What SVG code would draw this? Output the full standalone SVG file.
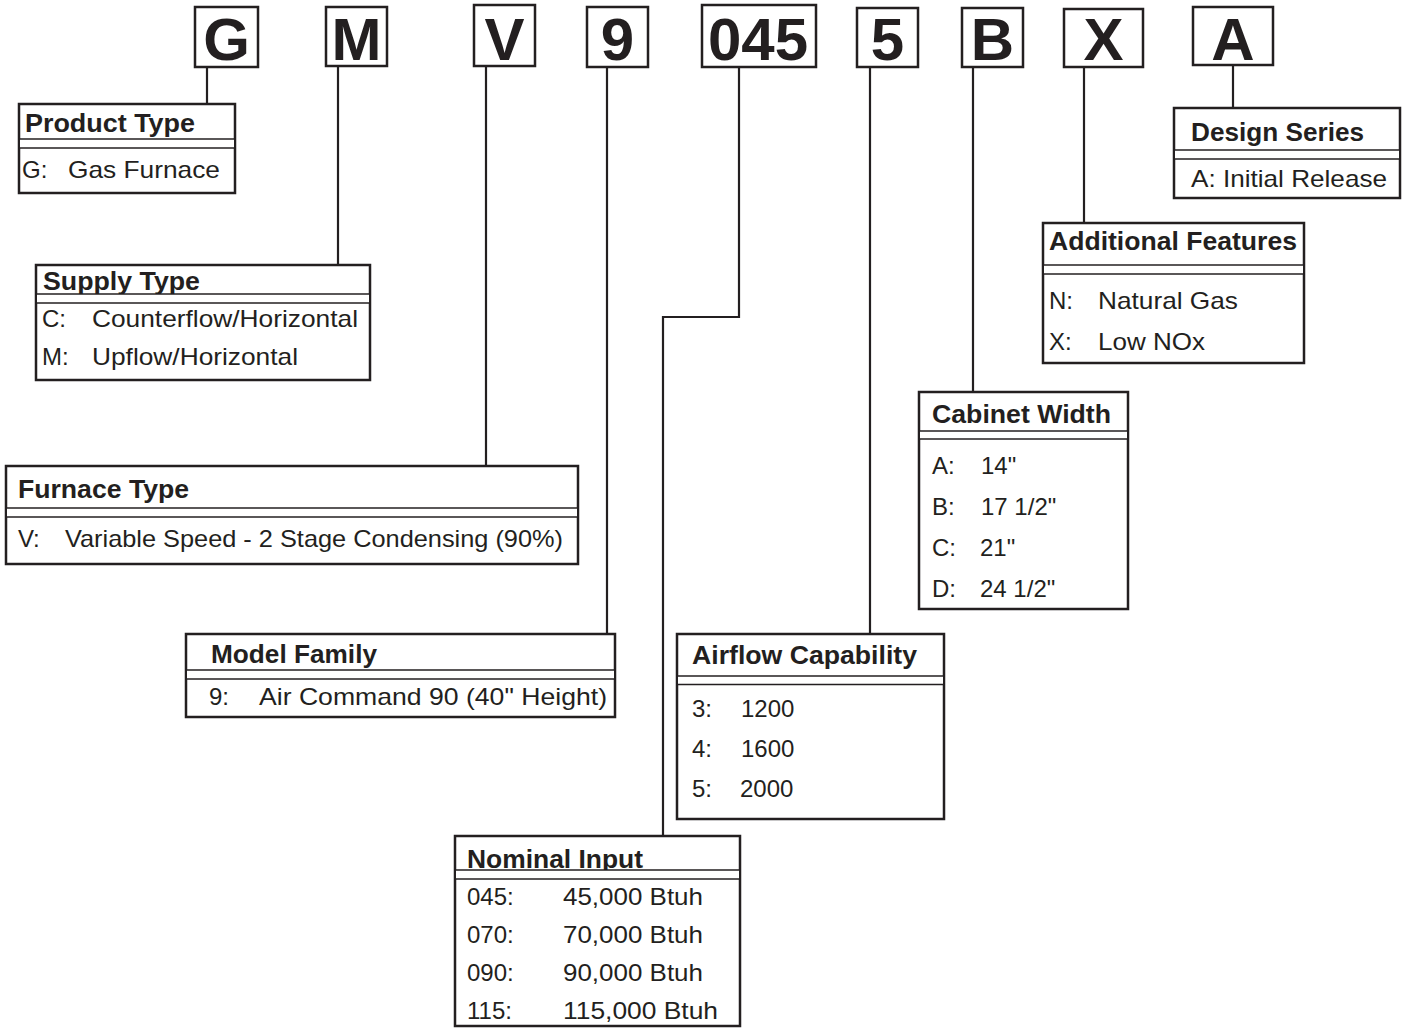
<svg xmlns="http://www.w3.org/2000/svg" width="1403" height="1028" viewBox="0 0 1403 1028">
<style>
.bg{fill:#ffffff}
.box{fill:#ffffff;stroke:#231f20;stroke-width:2.5}
.conn{fill:none;stroke:#231f20;stroke-width:2.2}
.sep{stroke:#231f20;stroke-width:1.5}
.band{fill:#ffffff;stroke:none}
.big{font-family:"Liberation Sans",Arial,sans-serif;font-weight:bold;font-size:60px;fill:#231f20;text-anchor:middle}
.t{font-family:"Liberation Sans",Arial,sans-serif;font-weight:bold;font-size:25px;fill:#231f20}
.b{font-family:"Liberation Sans",Arial,sans-serif;font-size:24px;fill:#231f20}
</style>
<rect class="bg" x="0" y="0" width="1403" height="1028"/>

<g id="connectors">
<path class="conn" d="M207,67 V104"/>
<path class="conn" d="M338,66 V265"/>
<path class="conn" d="M486,66 V466"/>
<path class="conn" d="M607,67 V634"/>
<path class="conn" d="M739,67 V317 H663 V836"/>
<path class="conn" d="M870,67 V634"/>
<path class="conn" d="M973,67 V392"/>
<path class="conn" d="M1084,67 V223"/>
<path class="conn" d="M1233,65 V108"/>
</g>

<g id="code-G"><rect class="box" x="195" y="7" width="63" height="60"/><text class="big" x="226.5" y="60">G</text></g>
<g id="code-M"><rect class="box" x="326" y="7" width="61" height="59"/><text class="big" x="356.5" y="60">M</text></g>
<g id="code-V"><rect class="box" x="474" y="5" width="61" height="61"/><text class="big" x="504.5" y="60">V</text></g>
<g id="code-9"><rect class="box" x="587" y="7" width="61" height="60"/><text class="big" x="617.5" y="60">9</text></g>
<g id="code-045"><rect class="box" x="702" y="5" width="114" height="62"/><text class="big" x="758" y="60">045</text></g>
<g id="code-5"><rect class="box" x="857" y="8" width="61" height="59"/><text class="big" x="887.5" y="60">5</text></g>
<g id="code-B"><rect class="box" x="962" y="8" width="61" height="59"/><text class="big" x="992.5" y="60">B</text></g>
<g id="code-X"><rect class="box" x="1064" y="9" width="79" height="58"/><text class="big" x="1103.5" y="60">X</text></g>
<g id="code-A"><rect class="box" x="1193" y="7" width="80" height="58"/><text class="big" x="1233" y="60">A</text></g>

<g id="product-type">
<rect class="box" x="19" y="104" width="216" height="89"/>
<text class="t" x="25" y="132" textLength="170" lengthAdjust="spacingAndGlyphs">Product Type</text>
<rect class="band" x="20" y="139" width="214" height="9"/>
<line class="sep" x1="19" y1="139" x2="235" y2="139"/><line class="sep" x1="19" y1="148" x2="235" y2="148"/>
<text class="b" x="22" y="178">G:</text>
<text class="b" x="68" y="178" textLength="152" lengthAdjust="spacingAndGlyphs">Gas Furnace</text>
</g>

<g id="supply-type">
<rect class="box" x="36" y="265" width="334" height="115"/>
<text class="t" x="43" y="290" textLength="157" lengthAdjust="spacingAndGlyphs">Supply Type</text>
<rect class="band" x="37" y="294" width="332" height="9"/>
<line class="sep" x1="36" y1="294" x2="370" y2="294"/><line class="sep" x1="36" y1="303" x2="370" y2="303"/>
<text class="b" x="42" y="327">C:</text>
<text class="b" x="92" y="327" textLength="266" lengthAdjust="spacingAndGlyphs">Counterflow/Horizontal</text>
<text class="b" x="42" y="365">M:</text>
<text class="b" x="92" y="365" textLength="206" lengthAdjust="spacingAndGlyphs">Upflow/Horizontal</text>
</g>

<g id="furnace-type">
<rect class="box" x="6" y="466" width="572" height="98"/>
<text class="t" x="18" y="498" textLength="171" lengthAdjust="spacingAndGlyphs">Furnace Type</text>
<rect class="band" x="7" y="508" width="570" height="9"/>
<line class="sep" x1="6" y1="508" x2="578" y2="508"/><line class="sep" x1="6" y1="517" x2="578" y2="517"/>
<text class="b" x="18" y="547">V:</text>
<text class="b" x="65" y="547" textLength="498" lengthAdjust="spacingAndGlyphs">Variable Speed - 2 Stage Condensing (90%)</text>
</g>

<g id="model-family">
<rect class="box" x="186" y="634" width="429" height="83"/>
<text class="t" x="211" y="663" textLength="166" lengthAdjust="spacingAndGlyphs">Model Family</text>
<rect class="band" x="187" y="670" width="427" height="9"/>
<line class="sep" x1="186" y1="670" x2="615" y2="670"/><line class="sep" x1="186" y1="679" x2="615" y2="679"/>
<text class="b" x="209" y="705">9:</text>
<text class="b" x="259" y="705" textLength="348" lengthAdjust="spacingAndGlyphs">Air Command 90 (40" Height)</text>
</g>

<g id="nominal-input">
<rect class="box" x="455" y="836" width="285" height="190"/>
<text class="t" x="467" y="868" textLength="176" lengthAdjust="spacingAndGlyphs">Nominal Input</text>
<rect class="band" x="456" y="870" width="283" height="9"/>
<line class="sep" x1="455" y1="870" x2="740" y2="870"/><line class="sep" x1="455" y1="879" x2="740" y2="879"/>
<text class="b" x="467" y="905">045:</text>
<text class="b" x="563" y="905" textLength="140" lengthAdjust="spacingAndGlyphs">45,000 Btuh</text>
<text class="b" x="467" y="943">070:</text>
<text class="b" x="563" y="943" textLength="140" lengthAdjust="spacingAndGlyphs">70,000 Btuh</text>
<text class="b" x="467" y="981">090:</text>
<text class="b" x="563" y="981" textLength="140" lengthAdjust="spacingAndGlyphs">90,000 Btuh</text>
<text class="b" x="467" y="1019">115:</text>
<text class="b" x="563" y="1019" textLength="155" lengthAdjust="spacingAndGlyphs">115,000 Btuh</text>
</g>

<g id="airflow-capability">
<rect class="box" x="677" y="634" width="267" height="185"/>
<text class="t" x="692" y="664" textLength="225" lengthAdjust="spacingAndGlyphs">Airflow Capability</text>
<rect class="band" x="678" y="676" width="265" height="8.5"/>
<line class="sep" x1="677" y1="676" x2="944" y2="676"/><line class="sep" x1="677" y1="684.5" x2="944" y2="684.5"/>
<text class="b" x="692" y="717">3:</text>
<text class="b" x="741" y="717">1200</text>
<text class="b" x="692" y="757">4:</text>
<text class="b" x="741" y="757">1600</text>
<text class="b" x="692" y="797">5:</text>
<text class="b" x="740" y="797">2000</text>
</g>

<g id="cabinet-width">
<rect class="box" x="919" y="392" width="209" height="217"/>
<text class="t" x="932" y="423" textLength="179" lengthAdjust="spacingAndGlyphs">Cabinet Width</text>
<rect class="band" x="920" y="431" width="207" height="8"/>
<line class="sep" x1="919" y1="431" x2="1128" y2="431"/><line class="sep" x1="919" y1="439" x2="1128" y2="439"/>
<text class="b" x="932" y="474">A:</text>
<text class="b" x="981" y="474">14"</text>
<text class="b" x="932" y="515">B:</text>
<text class="b" x="981" y="515">17 1/2"</text>
<text class="b" x="932" y="556">C:</text>
<text class="b" x="980" y="556">21"</text>
<text class="b" x="932" y="597">D:</text>
<text class="b" x="980" y="597">24 1/2"</text>
</g>

<g id="additional-features">
<rect class="box" x="1043" y="223" width="261" height="140"/>
<text class="t" x="1049" y="250" textLength="248" lengthAdjust="spacingAndGlyphs">Additional Features</text>
<rect class="band" x="1044" y="265" width="259" height="9"/>
<line class="sep" x1="1043" y1="265" x2="1304" y2="265"/><line class="sep" x1="1043" y1="274" x2="1304" y2="274"/>
<text class="b" x="1049" y="309">N:</text>
<text class="b" x="1098" y="309" textLength="140" lengthAdjust="spacingAndGlyphs">Natural Gas</text>
<text class="b" x="1049" y="350">X:</text>
<text class="b" x="1098" y="350" textLength="107" lengthAdjust="spacingAndGlyphs">Low NOx</text>
</g>

<g id="design-series">
<rect class="box" x="1174" y="108" width="226" height="90"/>
<text class="t" x="1191" y="141" textLength="173" lengthAdjust="spacingAndGlyphs">Design Series</text>
<rect class="band" x="1175" y="150" width="224" height="9"/>
<line class="sep" x1="1174" y1="150" x2="1400" y2="150"/><line class="sep" x1="1174" y1="159" x2="1400" y2="159"/>
<text class="b" x="1191" y="187" textLength="196" lengthAdjust="spacingAndGlyphs">A: Initial Release</text>
</g>
</svg>
